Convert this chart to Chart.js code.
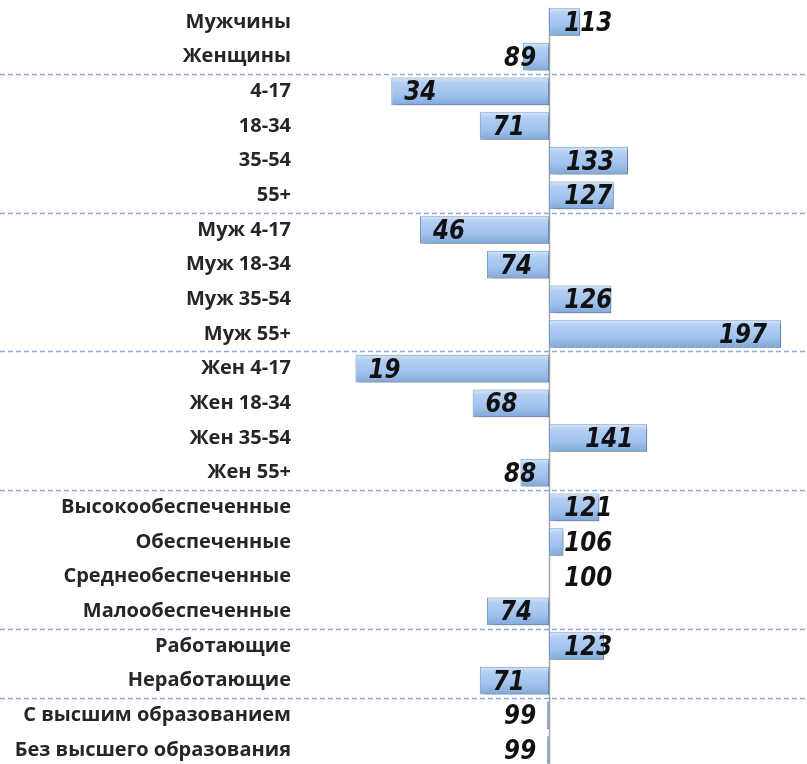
<!DOCTYPE html>
<html>
<head>
<meta charset="utf-8">
<title>Индексы аудитории</title>
<script src="https://cdn.jsdelivr.net/npm/chart.js@4.4.1/dist/chart.umd.min.js"></script>
<style>
  html, body { margin: 0; padding: 0; background: #fff; overflow: hidden; }
  #wrap { position: relative; width: 807px; height: 768px; }
</style>
</head>
<body>
<div id="wrap"><canvas id="chart" width="807" height="768"></canvas></div>
<script>
// Categories (top to bottom) and index values (100 = average)
const categories = [
  'Мужчины', 'Женщины',
  '4-17', '18-34', '35-54', '55+',
  'Муж 4-17', 'Муж 18-34', 'Муж 35-54', 'Муж 55+',
  'Жен 4-17', 'Жен 18-34', 'Жен 35-54', 'Жен 55+',
  'Высокообеспеченные', 'Обеспеченные', 'Среднеобеспеченные', 'Малообеспеченные',
  'Работающие', 'Неработающие',
  'С высшим образованием', 'Без высшего образования'
];
const indexValues = [
  113, 89,
  34, 71, 133, 127,
  46, 74, 126, 197,
  19, 68, 141, 88,
  121, 106, 100, 74,
  123, 71,
  99, 99
];
const baseValue = 100;
// a dashed separator is drawn after each of these category indexes
const groupEnds = [1, 5, 9, 13, 17, 19];

// vertical gradient for each bar, gives the bevelled look
function barFill(c){
  const chart = c.chart;
  const ys = chart.scales && chart.scales.y;
  if(!chart.chartArea || !ys || c.dataIndex === undefined) return '#a9c9ef';
  const mid = ys.getPixelForValue(c.dataIndex);
  const g = chart.ctx.createLinearGradient(0, mid - 14, 0, mid + 14);
  g.addColorStop(0, '#d6e6f8');
  g.addColorStop(0.2, '#b3cff2');
  g.addColorStop(0.6, '#a2c3ee');
  g.addColorStop(1, '#80a8db');
  return g;
}

const decorPlugin = {
  id: 'decor',
  beforeDatasetsDraw(chart){
    const ctx = chart.ctx;
    const ys = chart.scales.y;
    const xs = chart.scales.x;
    const area = chart.chartArea;
    // dashed group separators
    ctx.save();
    ctx.strokeStyle = '#8eaad8';
    ctx.lineWidth = 1.5;
    ctx.setLineDash([5, 3]);
    groupEnds.forEach(i => {
      const y = Math.round((ys.getPixelForValue(i) + ys.getPixelForValue(i + 1)) / 2) + 0.5;
      ctx.beginPath();
      ctx.moveTo(0, y);
      ctx.lineTo(chart.width, y);
      ctx.stroke();
    });
    ctx.restore();
    // vertical line at the base value
    const bx = Math.round(xs.getPixelForValue(baseValue)) + 0.5;
    ctx.save();
    ctx.strokeStyle = '#a4a4a4';
    ctx.lineWidth = 1.5;
    ctx.beginPath();
    ctx.moveTo(bx, area.top + 3);
    ctx.lineTo(bx, chart.height);
    ctx.stroke();
    ctx.restore();
    // shadow for the bars
    ctx.save();
    ctx.shadowColor = 'rgba(0,0,0,0.28)';
    ctx.shadowBlur = 4;
    ctx.shadowOffsetX = 3;
    ctx.shadowOffsetY = 3;
  },
  afterDatasetsDraw(chart){
    const ctx = chart.ctx;
    ctx.restore();
    const meta = chart.getDatasetMeta(0);
    ctx.save();
    ctx.font = 'italic bold 23px "DejaVu Sans"';
    ctx.fillStyle = '#111';
    ctx.textBaseline = 'middle';
    ctx.textAlign = 'left';
    meta.data.forEach((el, i) => {
      const v = indexValues[i];
      const txt = String(v);
      const w = ctx.measureText(txt).width;
      let left;
      if(v >= baseValue){
        const right = Math.max(el.x - 14, el.base + 15 + w);
        left = right - w;
      } else {
        left = Math.min(el.x + 13, el.base - 13 - w);
      }
      ctx.save();
      ctx.translate(left, el.y + 2);
      ctx.scale(1, 1.16);
      ctx.fillText(txt, 0, 0);
      ctx.restore();
    });
    ctx.restore();
  }
};

new Chart(document.getElementById('chart'), {
  type: 'bar',
  data: {
    labels: categories,
    datasets: [{
      data: indexValues,
      base: baseValue,
      backgroundColor: barFill,
      borderColor: '#7399cc',
      borderWidth: 1,
      borderSkipped: false,
      barPercentage: 0.8,
      categoryPercentage: 1
    }]
  },
  options: {
    indexAxis: 'y',
    responsive: false,
    animation: false,
    layout: { autoPadding: false, padding: { top: 4.67, bottom: 0.67, left: 0, right: 2 } },
    plugins: { legend: { display: false }, tooltip: { enabled: false } },
    scales: {
      x: { display: false, min: 0, max: 207 },
      y: {
        afterFit(scale){
          scale.width = 310;
          scale.paddingTop = 0;
          scale.paddingBottom = 0;
        },
        grid: { display: false, drawTicks: false },
        border: { display: false },
        ticks: {
          padding: 19,
          color: '#262626',
          font: { family: '"Open Sans"', size: 20, weight: 'bold' }
        }
      }
    }
  },
  plugins: [decorPlugin]
});
</script>
</body>
</html>
